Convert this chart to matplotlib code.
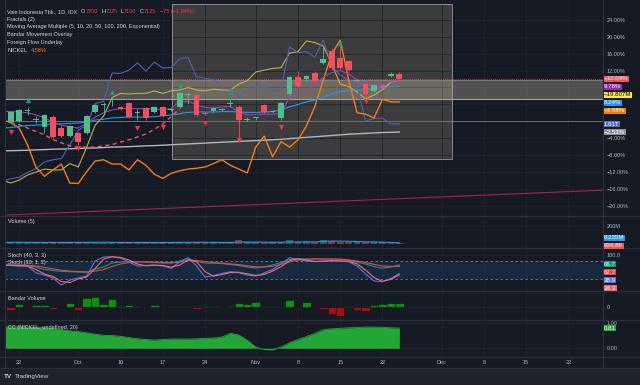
import numpy as np
import pandas as pd
import matplotlib
matplotlib.use("Agg")
import matplotlib.pyplot as plt
from matplotlib.patches import Rectangle
from matplotlib.lines import Line2D

plt.rcParams['font.family'] = ['Liberation Sans', 'DejaVu Sans']

# ---- data: INCO daily, % change vs first bar (compare mode) ----
dates = pd.bdate_range('2022-09-20', '2022-11-24')
axis_dates = pd.bdate_range('2022-09-20', '2022-12-30')
tick_dates = ['2022-09-22', '2022-10-03', '2022-10-10', '2022-10-17', '2022-10-24',
              '2022-11-01', '2022-11-08', '2022-11-15', '2022-11-22', '2022-12-01',
              '2022-12-08', '2022-12-15', '2022-12-22']
tick_labels = ['22', 'Oct', '10', '17', '24', 'Nov', '8', '15', '22', 'Dec', '8', '15', '22']

opens = [2.3, -0.1, 0.1, 2.5, 0.3, -1.3, 1.1, -1.5, -3.5, -2.8,
         -2.8, 2.3, 3.85, 5.0, 3.4, 4.25, 2.0, 3.1, 2.3, 3.3,
         2.7, 3.45, 6.2, 6.2, 2.0, 2.5, 2.75, 4.1, 3.45, 0.4,
         0.7, 3.85, 2.3, 0.7, 6.45, 10.4, 9.9, 11.5, 13.85, 16.7,
         14.9, 14.25, 9.6, 8.8, 7.2, 8.6, 10.7, 11.2]
closes = [0.0, 2.27, 2.67, 2.55, 0.35, 1.5, -3.6, -3.5, -1.1, -4.8,
          1.25, 3.85, 3.9, 5.05, 3.0, 1.1, 2.05, 0.7, 3.3, 1.3,
          2.75, 6.6, 6.3, 1.5, 1.8, 3.1, 2.8, 4.4, 0.3, 0.55,
          0.75, 2.27, 2.35, 4.25, 10.4, 8.35, 10.7, 9.5, 14.65, 12.5,
          12.5, 12.1, 9.65, 6.45, 8.6, 8.0, 11.2, 10.04]
highs = [2.6, 2.5, 2.9, 3.3, 1.2, 1.8, 1.4, -1.2, -0.8, -2.5,
         1.6, 4.2, 4.6, 5.8, 3.7, 4.5, 2.8, 3.4, 3.6, 3.6,
         3.0, 6.9, 6.9, 6.5, 2.3, 3.4, 3.1, 5.3, 3.8, 0.9,
         1.1, 4.1, 2.7, 4.6, 10.8, 12.0, 11.0, 11.8, 17.5, 17.3,
         18.0, 14.6, 10.0, 9.2, 8.9, 8.9, 11.58, 11.58]
lows = [-0.3, -0.4, -0.2, 1.5, -0.5, -2.7, -3.9, -3.8, -3.8, -5.5,
        -3.1, 2.0, 1.6, 3.5, 2.7, 0.8, 0.2, 0.4, 2.0, 1.0,
        2.4, 3.2, 4.0, 1.2, 1.5, 2.2, 2.5, 3.4, -4.0, 0.1,
        0.3, 2.0, 2.0, 0.4, 6.2, 8.0, 9.6, 9.2, 13.5, 12.2,
        12.2, 11.8, 9.3, 6.1, 6.9, 7.7, 10.4, 9.65]

ema5 = [2.4, 2.3, 2.2, 2.0, 1.5, 0.8, -0.2, -0.9, -1.3, -1.6,
        -0.4, 1.0, 2.0, 2.7, 3.0, 3.0, 3.0, 3.0, 2.9, 2.8,
        3.0, 4.8, 4.7, 3.9, 3.3, 3.1, 3.4, 3.5, 2.2, 1.5,
        1.6, 1.7, 1.7, 1.9, 5.7, 6.8, 7.5, 8.6, 10.5, 11.5,
        12.0, 11.2, 9.8, 8.9, 8.6, 8.6, 9.4, 9.78]
ema10 = [-1.6, -1.5, -1.2, -1.0, -0.9, -0.8, -0.6, -0.6, -0.5, -0.4,
         -0.2, 0.3, 0.5, 0.8, 0.9, 1.0, 1.0, 1.0, 1.1, 1.3,
         1.5, 1.8, 2.1, 2.2, 2.2, 2.2, 2.3, 2.3, 2.2, 2.1,
         2.1, 2.2, 2.3, 2.7, 3.4, 4.0, 4.6, 5.0, 5.7, 6.5,
         7.0, 7.3, 7.4, 7.5, 7.8, 8.0, 8.2, 8.24]
ema_long = [-7.0, -6.95, -6.9, -6.85, -6.75, -6.7, -6.6, -6.55, -6.5, -6.4,
            -6.35, -6.3, -6.2, -6.1, -6.05, -6.0, -5.9, -5.8, -5.75, -5.65,
            -5.55, -5.45, -5.35, -5.25, -5.15, -5.05, -4.95, -4.85, -4.75, -4.65,
            -4.55, -4.45, -4.35, -4.25, -4.1, -3.95, -3.8, -3.65, -3.5, -3.35,
            -3.2, -3.05, -2.95, -2.85, -2.75, -2.65, -2.6, -2.53]
foreign_flow = [-13.9, -14.6, -13.9, -12.7, -12.0, -11.3, -11.5, -11.5, -10.0, -10.8,
                -6.1, -0.9, 1.25, 5.6, 6.6, 6.45, 6.6, 6.6, 7.2, 6.6,
                7.2, 7.4, 8.0, 7.4, 7.2, 7.6, 7.4, 7.4, 8.8, 9.6,
                11.65, 12.1, 12.5, 12.7, 16.1, 16.5, 19.0, 18.6, 17.8, 13.5,
                8.8, 8.2, 6.9, 5.3, 6.2, 7.5, 9.3, 9.7]
bandar_move = [-14.1, -13.6, -13.2, -12.1, -11.2, -9.6, -9.1, -8.8, -5.6, -2.1,
               -0.9, 4.2, 4.7, 11.4, 11.3, 12.1, 13.8, 11.9, 14.0, 12.6,
               12.7, 14.8, 15.1, 10.5, 10.2, 9.8, 7.9, 7.6, 5.9, 7.3,
               8.0, 8.1, 7.3, 7.6, 17.6, 16.2, 16.5, 15.2, 19.2, 13.1,
               10.9, 9.8, 8.3, 0.0, 0.7, 0.7, -0.6, -0.64]
nickel = [0.3, -0.3, -1.6, -5.6, -10.9, -13.0, -11.5, -10.1, -14.6, -14.7,
          -11.9, -9.4, -9.1, -10.1, -10.1, -11.5, -9.1, -10.4, -12.5, -13.5,
          -12.3, -11.7, -11.3, -11.1, -10.8, -10.0, -9.1, -10.4, -11.3, -12.2,
          -6.1, -3.5, -8.4, -4.8, -6.1, -4.4, -1.1, 3.5, 9.8, 15.9,
          19.2, 9.8, 2.0, 1.7, 0.8, 5.2, 4.6, 4.58]
# dashed red curve, first 21 bars from Sep 21
dash_curve = [-0.3, -0.8, -1.6, -2.4, -3.2, -4.3, -5.1, -5.8, -6.1, -6.1,
              -6.1, -5.8, -5.5, -4.9, -4.4, -3.7, -3.0, -1.9, -0.6, 1.1, 3.0]

frac_dn_idx = [1, 9, 16, 19, 24, 28, 33, 43]
frac_dn_val = [-2.46, -6.38, -1.65, -1.28, -0.47, -4.42, -1.28, 4.87]
frac_up_idx = [3, 13, 21, 27, 40]
frac_up_val = [5.04, 6.86, 8.58, 7.0, 18.58]

# drawings
zone_top, zone_bottom = 9.76, 5.27
box_left, box_right, box_top, box_bottom = 20.1, 53.2, 27.7, -8.9
trend_x, trend_y = [0, 71], [-22.2, -16.3]
foreign_label, bandar_label = '\u221219.807M', '1.61T'

volume = [12, 14, 12, 10, 11, 15, 13, 12, 12, 14,
          16, 15, 11, 12, 10, 13, 11, 12, 11, 12,
          10, 18, 12, 13, 11, 12, 10, 14, 35, 12,
          13, 11, 12, 16, 35, 15, 28, 14, 40, 25,
          22, 14, 15, 22, 13, 12, 11, 0.6348]
vol_ma = [13, 13, 13, 12.5, 12, 12, 12.5, 12.5, 12.5, 12.5,
          13, 14, 14, 13, 12, 12, 12, 12, 12, 12,
          12, 13, 13, 13, 13, 12.5, 12, 12, 17, 17,
          16, 15, 14, 14, 18, 18, 20, 18, 24, 27,
          27, 25, 22, 20, 18, 15, 12, 8.235]

stoch_fast_k = [66.9, 65.2, 63.6, 63.6, 40.7, 34.1, 24.3, 1.3, 17.7, 24.3,
                30.8, 80.0, 93.1, 94.1, 89.8, 76.7, 63.6, 65.2, 66.9, 63.6,
                56.1, 76.7, 90.8, 63.6, 27.5, 32.5, 39.0, 44.9, 41.6, 34.1,
                30.8, 40.7, 52.8, 70.2, 90.8, 84.9, 80.0, 77.7, 80.0, 81.0,
                80.0, 77.7, 63.6, 37.4, 14.4, 12.1, 22.6, 38.9]
stoch_fast_d = [66.0, 66.0, 64.4, 63.6, 52.0, 37.4, 29.0, 12.8, 9.5, 21.0,
                27.5, 55.4, 86.5, 93.6, 92.0, 83.2, 70.0, 64.4, 66.0, 65.2,
                59.8, 66.4, 83.8, 77.2, 45.5, 30.0, 35.7, 42.0, 43.2, 37.8,
                32.4, 35.8, 46.8, 61.5, 80.5, 87.8, 82.5, 78.9, 78.9, 80.5,
                80.5, 78.9, 70.6, 50.5, 25.9, 13.2, 20.0, 34.3]
stoch_slow_k = [66.9, 66.9, 66.9, 65.2, 60.3, 52.1, 48.9, 46.2, 44.9, 43.9,
                42.9, 53.8, 60.3, 73.4, 76.7, 77.7, 77.7, 76.7, 75.1, 73.4,
                73.4, 80.0, 88.2, 78.4, 73.4, 72.5, 71.8, 68.5, 65.2, 60.3,
                57.0, 60.3, 66.9, 75.1, 84.9, 86.6, 86.6, 86.6, 86.6, 86.6,
                85.6, 81.6, 76.7, 70.2, 62.0, 56.1, 60.3, 66.7]
stoch_slow_d = [65.5, 65.8, 66.2, 66.0, 64.0, 59.0, 54.0, 50.0, 47.0, 45.5,
                44.0, 47.0, 52.0, 62.0, 70.0, 75.0, 77.0, 77.0, 76.0, 75.0,
                74.0, 76.0, 82.0, 82.0, 78.0, 75.0, 73.0, 70.5, 68.0, 64.5,
                61.0, 60.5, 62.5, 69.0, 77.0, 83.0, 86.0, 86.5, 86.5, 86.5,
                86.0, 84.0, 80.0, 75.0, 69.0, 63.5, 62.0, 62.7]

bandar_vol = [-2.0, -2.5, 3.3, -1.0, 2.3, 2.3, -2.0, 0.5, 4.0, -2.5,
              9.0, 10.7, 3.3, 8.3, 1.3, 2.0, 1.3, -0.7, 2.3, -1.0,
              1.7, 1.7, 1.7, -1.7, 1.3, 1.7, -1.0, 1.7, 4.0, 3.0,
              5.0, 1.7, 1.7, 1.7, 7.3, -1.0, 5.7, -1.0, -1.7, -6.7,
              -8.5, 1.7, -2.7, -3.7, 2.3, 3.3, 4.3, 4.3]

cc_nickel = [0.86, 0.86, 0.86, 0.85, 0.84, 0.82, 0.79, 0.75, 0.70, 0.67,
             0.62, 0.56, 0.52, 0.51, 0.48, 0.43, 0.38, 0.35, 0.33, 0.35,
             0.37, 0.37, 0.37, 0.38, 0.40, 0.41, 0.45, 0.60, 0.53, 0.32,
             0.05, -0.05, -0.06, 0.05, 0.22, 0.35, 0.47, 0.60, 0.74, 0.78,
             0.80, 0.82, 0.83, 0.85, 0.85, 0.84, 0.82, 0.81]

# ---- style ----
W, H = 640, 385
BG, STRIP, GRID, SEP = '#161a25', '#1e222d', '#1f2330', '#2a2e39'
TXT, LBL = '#b2b5be', '#d1d4dc'
GREEN, RED = '#50be8c', '#f0505f'
FS = 4

x = np.arange(len(dates))
XL = (0.27, 71.04)
tick_pos = [axis_dates.get_loc(pd.Timestamp(d)) for d in tick_dates]


def px_box(x0, y0, x1, y1):
    return [x0 / W, 1 - y1 / H, (x1 - x0) / W, (y1 - y0) / H]


fig = plt.figure(figsize=(6.4, 3.85), dpi=100, facecolor=STRIP)
fig.add_artist(Rectangle((0, 17 / H), 1, 1 - 17 / H, transform=fig.transFigure,
                         color=BG, zorder=-10))


def pane(y0, y1, ylim, yticks, ylabels):
    ax = fig.add_axes(px_box(4.5, y0, 602.5, y1))
    ax.set_facecolor(BG)
    ax.set_xlim(XL)
    ax.set_ylim(ylim)
    for s in ax.spines.values():
        s.set_visible(False)
    ax.yaxis.tick_right()
    ax.set_yticks(yticks)
    ax.set_yticklabels(ylabels)
    ax.set_xticks(tick_pos)
    ax.set_xticklabels([])
    ax.tick_params(axis='both', length=0, labelsize=FS, colors=TXT, pad=3.2)
    ax.grid(True, color=GRID, lw=0.6)
    ax.set_axisbelow(True)
    return ax


def fmt_pct(v):
    return f"{v:.2f}%".replace('-', '\u2212')


pct_ticks = np.arange(-20, 25, 4)
main = pane(0, 216, (-22.39, 28.68), pct_ticks, [fmt_pct(v) for v in pct_ticks])
vol = pane(216, 248.3, (-54.7, 313.5), [200], ['200M'])
sto = pane(248.3, 290.7, (-17.4, 121.6), [100], ['100.0'])
bnd = pane(290.7, 320, (-12.7, 16.6), [0], ['0'])
cc = pane(320, 356.7, (-0.336, 1.132), [0, 1], ['0.00', '1.00'])
cc.set_xticklabels(tick_labels)
cc.tick_params(axis='x', pad=2.2)

# ---- main pane ----
main.add_patch(Rectangle((box_left, box_bottom), box_right - box_left, box_top - box_bottom,
                         fc='#998c73', alpha=0.3, ec='none', zorder=0.5))
main.add_patch(Rectangle((box_left, box_bottom), box_right - box_left, box_top - box_bottom,
                         fc='none', ec='#9598a1', lw=0.6, zorder=0.6))
main.axhspan(zone_bottom, zone_top, color='#e0d2b8', alpha=0.3, lw=0, zorder=0.7)
main.axhline(zone_top, color='#8a8a8a', lw=0.5, zorder=0.8)
main.axhline(zone_bottom, color='#a0a0a0', lw=0.8, zorder=0.8)
main.axhline(0, color='#787b86', lw=0.6, zorder=0.8)
main.axhline(closes[-1], color=RED, lw=0.5, ls=(0, (1.5, 1.5)), zorder=0.9)

main.plot(trend_x, trend_y, color='#a81d5e', lw=0.8, zorder=1)
main.plot(x, ema_long, color='#b2b5be', lw=1.0, zorder=2)
main.plot(x, foreign_flow, color='#c2ae42', lw=0.8, zorder=2)
main.plot(x, bandar_move, color='#5060b8', lw=0.8, zorder=2)
main.plot(x, nickel, color='#f57c1a', lw=1.0, zorder=2)
main.plot(x, ema10, color='#2196f3', lw=0.8, zorder=2)
main.plot(x, ema5, color='#9c3fb8', lw=0.8, zorder=2)
main.plot(x[1:1 + len(dash_curve)], dash_curve, color='#ef5350', lw=1.0,
          ls=(0, (3, 2.5)), zorder=2)

o, c = np.array(opens), np.array(closes)
up = c >= o
cols = np.where(up, GREEN, RED)
main.vlines(x, lows, highs, colors=cols, lw=0.6, zorder=3)
main.bar(x, np.maximum(np.abs(c - o), 0.22), bottom=np.minimum(o, c), width=0.68,
         color=cols, zorder=4)
main.scatter(np.array(frac_dn_idx), frac_dn_val, marker='v', s=14, color='#f23645',
             lw=0, zorder=5)
main.scatter(np.array(frac_up_idx), frac_up_val, marker='^', s=14, color='#13a085',
             lw=0, zorder=5)

# ---- volume pane ----
vol.bar(x, volume, width=0.8, color=np.where(up, '#26a69a', '#ef5350'), alpha=0.5)
vol.plot(x, vol_ma, color='#2196f3', lw=0.8)

# ---- stochastics ----
sto.axhspan(20, 80, color='#2196f3', alpha=0.12, lw=0)
sto.axhline(80, color='#787b86', lw=0.6, ls=(0, (3, 3)))
sto.axhline(20, color='#787b86', lw=0.6, ls=(0, (3, 3)))
sto.plot(x, stoch_slow_k, color='#139a8a', lw=0.8)
sto.plot(x, stoch_slow_d, color='#f23f3f', lw=0.8)
sto.plot(x, stoch_fast_k, color='#5a72ee', lw=0.8)
sto.plot(x, stoch_fast_d, color='#ef6a6a', lw=0.8)

# ---- bandar volume ----
bv = np.array(bandar_vol)
bnd.bar(x, bv, width=1.0, color=np.where(bv >= 0, '#0c8f0c', '#a30f0f'),
        ec='#0d0f12', lw=0.4)

# ---- correlation with nickel ----
cc.fill_between(x, cc_nickel, 0, color='#22a636', lw=0)
cc.plot(x, cc_nickel, color='#22a636', lw=0.6)

# ---- separators ----
for yy in [216, 248.3, 290.7, 320, 356.7, 368]:
    fig.add_artist(Line2D([0, 1], [1 - yy / H] * 2, transform=fig.transFigure,
                          color=SEP, lw=1))
fig.add_artist(Line2D([602.5 / W] * 2, [17 / H, 1], transform=fig.transFigure,
                      color=SEP, lw=1))
fig.add_artist(Line2D([4.5 / W] * 2, [17 / H, 1], transform=fig.transFigure,
                      color=SEP, lw=0.8))


# ---- price-scale labels ----
def side_labels(ax, items, bottom_px):
    ys = [H - ax.transData.transform((XL[0], v))[1] for v, *_ in items]
    placed, last = [], -1e9
    for i in np.argsort(ys, kind='stable'):
        yy = max(ys[i], last + 8.0)
        placed.append((i, yy))
        last = yy
    over = last - (bottom_px - 2.5)
    if over > 0:
        placed = [(i, yy - over) for i, yy in placed]
    for i, yy in placed:
        v, s, bg, fg = items[i]
        fig.text(604.0 / W, 1 - yy / H, s, color=fg, fontsize=4.4, va='center', ha='left',
                 bbox=dict(boxstyle='square,pad=0.08', fc=bg, ec='none'))
    # hide scale ticks that sit under a label box
    ticks = ax.get_yticks()
    labels = [t.get_text() for t in ax.get_yticklabels()]
    for k, tv in enumerate(ticks):
        ty = H - ax.transData.transform((XL[0], tv))[1]
        if any(abs(ty - yy) < 4.5 for _, yy in placed):
            labels[k] = ''
    ax.set_yticks(ticks)
    ax.set_yticklabels(labels)


side_labels(main, [
    (closes[-1], f"{closes[-1]:+.2f}%", RED, 'white'),
    (ema5[-1], f"{ema5[-1]:.2f}%", '#9c27b0', 'white'),
    (foreign_flow[-1], foreign_label, '#ffeb3b', 'black'),
    (ema10[-1], f"{ema10[-1]:.2f}%", '#2196f3', 'white'),
    (nickel[-1], f"{nickel[-1]:+.2f}%", '#f57c00', 'white'),
    (bandar_move[-1], bandar_label, '#5c6bc0', 'white'),
    (ema_long[-1], fmt_pct(ema_long[-1]), '#8f9199', 'white'),
], 216)
side_labels(vol, [
    (vol_ma[-1], f"{vol_ma[-1]:.3f}M", '#2196f3', 'white'),
    (volume[-1], f"{volume[-1] * 1000:.1f}K", RED, 'white'),
], 248.3)
side_labels(sto, [
    (stoch_slow_k[-1], f"{stoch_slow_k[-1]:.1f}", '#089981', 'white'),
    (stoch_slow_d[-1], f"{stoch_slow_d[-1]:.1f}", '#f44336', 'white'),
    (stoch_fast_k[-1], f"{stoch_fast_k[-1]:.1f}", '#5b6ee1', 'white'),
    (stoch_fast_d[-1], f"{stoch_fast_d[-1]:.1f}", '#f0606a', 'white'),
], 290.7)
side_labels(cc, [(cc_nickel[-1], f"{cc_nickel[-1]:.2f}", '#22a636', 'white')], 356.7)


# ---- legends / header ----
def chain(x_px, y_px, parts):
    t = fig.text(x_px / W, 1 - y_px / H, parts[0][0], color=parts[0][1], fontsize=FS,
                 va='center', ha='left')
    for s, col, gap in parts[1:]:
        t = main.annotate(s, xy=(1, 0.5), xycoords=t, xytext=(gap, 0),
                          textcoords='offset points', va='center', ha='left',
                          color=col, fontsize=FS, annotation_clip=False)


HR = '#f23645'
chain(7.3, 11.7, [('Vale Indonesia Tbk., 1D, IDX', LBL), ('O', LBL, 2.5), ('7200', HR, 0),
                  ('H', LBL, 2.5), ('7225', HR, 0), ('L', LBL, 2.5), ('7100', HR, 0),
                  ('C', LBL, 2.5), ('7125', HR, 0), ('\u221275 (\u22121.04%)', HR, 2.5)])
for yy, s in [(19.3, 'Fractals (2)'),
              (26.7, 'Moving Average Multiple (5, 10, 20, 50, 100, 200, Exponential)'),
              (34.7, 'Bandar Movement Overlay'), (42.7, 'Foreign Flow Underlay')]:
    fig.text(7.3 / W, 1 - yy / H, s, color=LBL, fontsize=FS, va='center')
chain(7.3, 50.7, [('NICKEL', LBL), (f"{nickel[-1]:.2f}%", '#f57c00', 2.5)])

for yy, s in [(222, 'Volume (5)'), (256, 'Stoch (40, 3, 3)'), (262.7, 'Stoch (30, 1, 2)'),
              (298.7, 'Bandar Volume'), (327, 'CC (NICKEL, undefined, 20)')]:
    fig.text(7.7 / W, 1 - yy / H, s, color=LBL, fontsize=FS, va='center')

fig.text(4 / W, 1 - 376.5 / H, 'TV', color=LBL, fontsize=4.5, fontweight='bold', va='center')
fig.text(15 / W, 1 - 376.5 / H, 'TradingView', color=LBL, fontsize=4.5, va='center')

fig.savefig('out.png', dpi=100, facecolor=STRIP)
